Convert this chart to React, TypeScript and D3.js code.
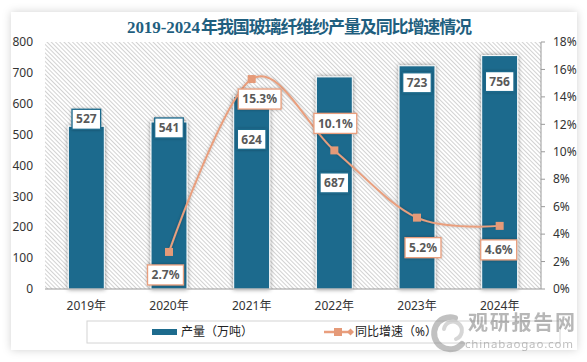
import React, { useEffect, useRef } from 'react';
import * as d3 from 'd3';

const years = ['2019年', '2020年', '2021年', '2022年', '2023年', '2024年'];
const output = [527, 541, 624, 687, 723, 756];
const growth: (number | null)[] = [null, 2.7, 15.3, 10.1, 5.2, 4.6];
const leftTicks = [0, 100, 200, 300, 400, 500, 600, 700, 800];
const rightTicks = [0, 2, 4, 6, 8, 10, 12, 14, 16, 18];

// hand placed label offsets (as in the original chart)
const barLabelDy = [-7, 6, 43, 106, 17, 26];
const lineLabelOffset = [[0, 0], [-3.5, 23], [8, 20], [1, -27], [6, 30], [-1, 24]];

const W = 587;
const H = 362;
const BAR = '#1d6b8d';
const LINE = '#e99f7e';
const FONT = '"Noto Sans", "Noto Sans CJK SC", sans-serif';

export default function App() {
    const svgRef = useRef<SVGSVGElement>(null);

    useEffect(() => {
        if (!svgRef.current) return;
        const svg = d3.select(svgRef.current);
        svg.selectAll('*').remove();

        const m = { left: 45, right: 541, top: 42, bottom: 289 };

        const defs = svg.append('defs');
        const hatch = defs.append('pattern')
            .attr('id', 'hatch')
            .attr('patternUnits', 'userSpaceOnUse')
            .attr('width', 3)
            .attr('height', 3)
            .attr('patternTransform', 'rotate(-45)');
        hatch.append('rect').attr('width', 3).attr('height', 3).attr('fill', '#fff');
        hatch.append('line')
            .attr('x1', 0.5).attr('y1', 0).attr('x2', 0.5).attr('y2', 3)
            .attr('stroke', '#cdcdcd').attr('stroke-width', 0.9);

        const card = defs.append('filter').attr('id', 'cardShadow')
            .attr('x', '-5%').attr('y', '-5%').attr('width', '110%').attr('height', '110%');
        card.append('feDropShadow').attr('dx', 0).attr('dy', 0)
            .attr('stdDeviation', 4).attr('flood-color', '#000').attr('flood-opacity', 0.18);

        const shadow = defs.append('filter').attr('id', 'shadow')
            .attr('x', '-30%').attr('y', '-30%').attr('width', '160%').attr('height', '160%');
        shadow.append('feDropShadow').attr('dx', 0).attr('dy', 0)
            .attr('stdDeviation', 2).attr('flood-color', '#000').attr('flood-opacity', 0.45);

        const soft = defs.append('filter').attr('id', 'soft')
            .attr('x', '-30%').attr('y', '-30%').attr('width', '160%').attr('height', '160%');
        soft.append('feDropShadow').attr('dx', 0).attr('dy', 0)
            .attr('stdDeviation', 1.5).attr('flood-color', '#000').attr('flood-opacity', 0.3);

        // background + card
        svg.append('rect').attr('width', W).attr('height', H).attr('fill', '#fff');
        svg.append('rect')
            .attr('x', 11).attr('y', 12).attr('width', 566).attr('height', 338)
            .attr('fill', '#fff').attr('filter', 'url(#cardShadow)');

        // title, in two pieces: serif digits, then the Chinese part
        svg.append('text')
            .attr('x', 127).attr('y', 33)
            .attr('fill', '#1f5f7f')
            .attr('font-weight', 'bold')
            .attr('font-family', '"Liberation Serif", serif')
            .attr('font-size', 17)
            .attr('textLength', 73)
            .attr('lengthAdjust', 'spacing')
            .text('2019-2024');
        svg.append('text')
            .attr('x', 201).attr('y', 33)
            .attr('fill', '#1f5f7f')
            .attr('font-weight', 'bold')
            .attr('font-family', '"Noto Sans CJK SC", sans-serif')
            .attr('font-size', 17)
            .attr('textLength', 271)
            .attr('lengthAdjust', 'spacing')
            .text('年我国玻璃纤维纱产量及同比增速情况');

        // scales
        const x = d3.scaleBand<string>()
            .domain(years)
            .range([m.left, m.right])
            .paddingInner(0.565)
            .paddingOuter(0.2825);
        const y = d3.scaleLinear().domain([0, 800]).range([m.bottom, m.top]);
        const y2 = d3.scaleLinear().domain([0, 18]).range([m.bottom, m.top]);

        // plot background
        svg.append('rect')
            .attr('x', m.left).attr('y', m.top)
            .attr('width', m.right - m.left).attr('height', m.bottom - m.top)
            .attr('fill', 'url(#hatch)');

        // bars
        svg.append('g')
            .selectAll('rect')
            .data(output)
            .join('rect')
            .attr('x', (_, i) => x(years[i])!)
            .attr('y', d => y(d))
            .attr('width', x.bandwidth())
            .attr('height', d => m.bottom - y(d))
            .attr('fill', BAR)
            .attr('stroke', '#fff')
            .attr('stroke-width', 1)
            .attr('filter', 'url(#shadow)');

        // axes
        const axisColor = '#9a9a9a';
        svg.append('line')
            .attr('x1', m.left).attr('x2', m.right)
            .attr('y1', m.bottom).attr('y2', m.bottom)
            .attr('stroke', axisColor).attr('stroke-width', 1.2);
        svg.append('line')
            .attr('x1', m.right).attr('x2', m.right)
            .attr('y1', m.top).attr('y2', m.bottom)
            .attr('stroke', axisColor).attr('stroke-width', 1);
        svg.append('g')
            .selectAll('line')
            .data(rightTicks)
            .join('line')
            .attr('x1', m.right).attr('x2', m.right + 4)
            .attr('y1', d => y2(d)).attr('y2', d => y2(d))
            .attr('stroke', axisColor);

        const tickText = { 'font-family': FONT, 'font-size': 12, fill: '#333' };
        const lt = svg.append('g')
            .selectAll('text')
            .data(leftTicks)
            .join('text')
            .attr('x', 33)
            .attr('y', d => y(d))
            .attr('dy', '0.35em')
            .attr('text-anchor', 'end')
            .text(d => d);
        Object.entries(tickText).forEach(([k, v]) => lt.attr(k, v as any));

        const rt = svg.append('g')
            .selectAll('text')
            .data(rightTicks)
            .join('text')
            .attr('x', 553)
            .attr('y', d => y2(d))
            .attr('dy', '0.35em')
            .text(d => `${d}%`);
        Object.entries(tickText).forEach(([k, v]) => rt.attr(k, v as any));

        const xt = svg.append('g')
            .selectAll('text')
            .data(years)
            .join('text')
            .attr('x', d => x(d)! + x.bandwidth() / 2)
            .attr('y', 306)
            .attr('dy', '0.35em')
            .attr('text-anchor', 'middle')
            .text(d => d);
        Object.entries(tickText).forEach(([k, v]) => xt.attr(k, v as any));

        // growth line
        const pts = growth
            .map((g, i) => ({ g, i }))
            .filter(p => p.g !== null) as { g: number; i: number }[];
        const cx = (i: number) => x(years[i])! + x.bandwidth() / 2;
        const line = d3.line<{ g: number; i: number }>()
            .x(p => cx(p.i))
            .y(p => y2(p.g))
            .curve(d3.curveCardinal.tension(0));
        svg.append('path')
            .datum(pts)
            .attr('d', line)
            .attr('fill', 'none')
            .attr('stroke', LINE)
            .attr('stroke-width', 2)
            .attr('filter', 'url(#soft)');
        svg.append('g')
            .selectAll('rect')
            .data(pts)
            .join('rect')
            .attr('x', p => cx(p.i) - 4)
            .attr('y', p => y2(p.g) - 4)
            .attr('width', 8)
            .attr('height', 8)
            .attr('fill', '#e59a78');

        // value label helper
        const labels = svg.append('g');
        const addLabel = (lx: number, ly: number, txt: string, border: string) => {
            const g = labels.append('g');
            const t = g.append('text')
                .attr('x', lx).attr('y', ly)
                .attr('dy', '0.35em')
                .attr('text-anchor', 'middle')
                .attr('font-family', FONT)
                .attr('font-size', 12)
                .attr('font-weight', 'bold')
                .attr('fill', '#595959')
                .text(txt);
            const bw = (t.node() as SVGTextElement).getComputedTextLength() + 8;
            g.insert('rect', 'text')
                .attr('x', lx - bw / 2).attr('y', ly - 10)
                .attr('width', bw).attr('height', 20)
                .attr('fill', '#fff')
                .attr('stroke', border)
                .attr('stroke-width', 1.3)
                .attr('filter', 'url(#soft)');
        };
        output.forEach((v, i) => addLabel(cx(i), y(v) + barLabelDy[i], String(v), BAR));
        pts.forEach(p => addLabel(
            cx(p.i) + lineLabelOffset[p.i][0],
            y2(p.g) + lineLabelOffset[p.i][1],
            `${p.g}%`,
            LINE,
        ));

        // legend
        svg.append('rect')
            .attr('x', 87).attr('y', 321).attr('width', 473).attr('height', 22)
            .attr('fill', '#fff').attr('stroke', '#d4d4d4');
        svg.append('rect')
            .attr('x', 152).attr('y', 329).attr('width', 25).attr('height', 6)
            .attr('fill', BAR);
        svg.append('text')
            .attr('x', 181).attr('y', 332).attr('dy', '0.35em')
            .attr('font-family', FONT).attr('font-size', 12).attr('fill', '#222')
            .text('产量（万吨）');
        svg.append('line')
            .attr('x1', 324).attr('x2', 350).attr('y1', 332).attr('y2', 332)
            .attr('stroke', LINE).attr('stroke-width', 2.5);
        svg.append('rect')
            .attr('x', 334).attr('y', 328).attr('width', 8).attr('height', 8)
            .attr('fill', '#e59a78');
        svg.append('path')
            .attr('d', 'M347,332 L350.5,328.5 L354,332 L350.5,335.5 Z')
            .attr('fill', '#e59a78');
        svg.append('text')
            .attr('x', 355).attr('y', 332).attr('dy', '0.35em')
            .attr('font-family', FONT).attr('font-size', 12).attr('fill', '#222')
            .text('同比增速（%）');

        // watermark
        const wm = svg.append('g').attr('opacity', 0.55);
        wm.append('path')
            .attr('d', 'M455,318 A16,16 0 1,0 462,344')
            .attr('fill', 'none').attr('stroke', '#8f8f8f').attr('stroke-width', 6)
            .attr('stroke-linecap', 'round');
        wm.append('path')
            .attr('d', 'M444,329 A9,9 0 1,1 456,339')
            .attr('fill', 'none').attr('stroke', '#b5b5b5').attr('stroke-width', 4)
            .attr('stroke-linecap', 'round');
        wm.append('text')
            .attr('x', 468).attr('y', 330)
            .attr('font-family', '"Noto Sans CJK SC", sans-serif')
            .attr('font-size', 20).attr('font-weight', 'bold').attr('fill', '#7d7d7d')
            .attr('textLength', 107)
            .text('观研报告网');
        wm.append('text')
            .attr('x', 465).attr('y', 348)
            .attr('font-family', FONT)
            .attr('font-size', 11.5).attr('fill', '#8a8a8a')
            .attr('textLength', 108)
            .text('chinabaogao.com');
    }, []);

    return (
        <svg
            ref={svgRef}
            width={W}
            height={H}
            style={{ position: 'absolute', left: 0, top: 0 }}
        />
    );
}
